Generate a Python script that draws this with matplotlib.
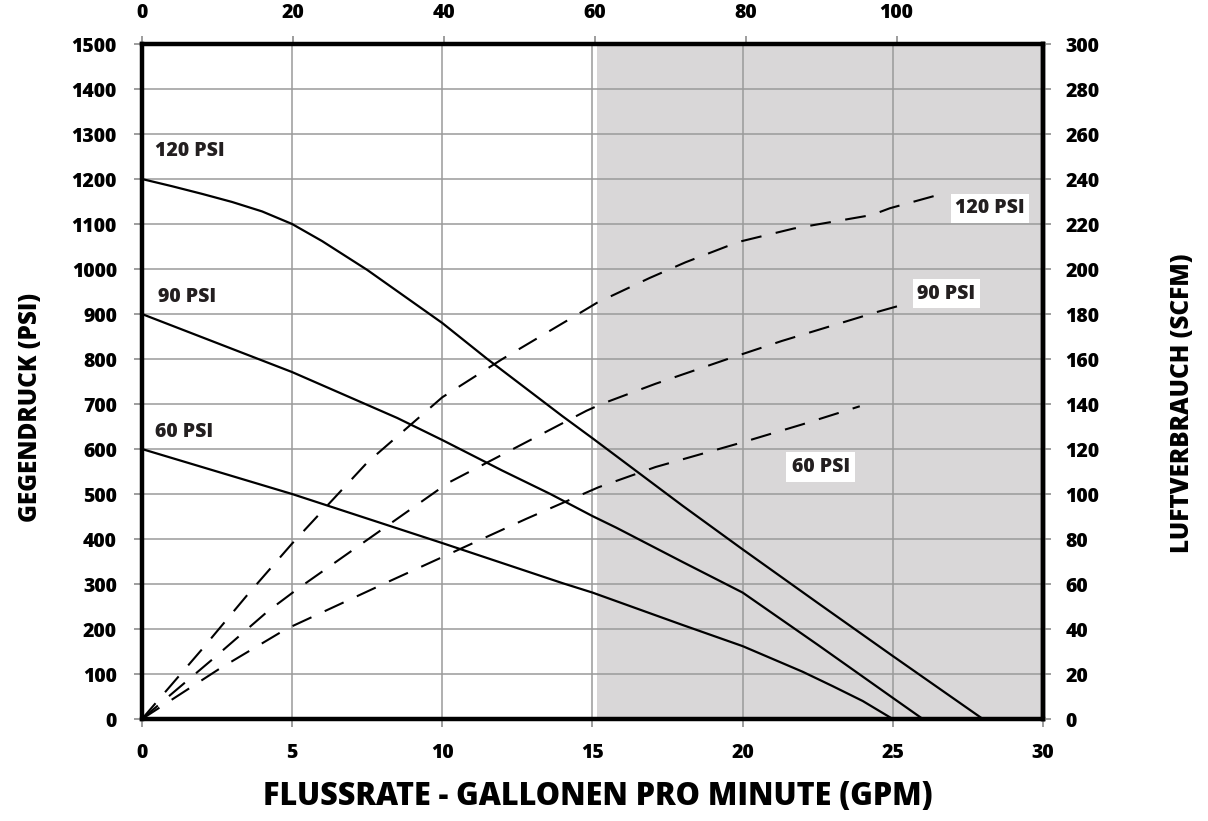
import matplotlib
matplotlib.use("Agg")
import matplotlib.pyplot as plt

plt.rcParams["font.family"] = ["Open Sans", "DejaVu Sans"]
plt.rcParams["font.weight"] = "heavy"

# Gegendruck (PSI) über Durchfluss (GPM), je Luftdruck
GPM_120 = [0, 1, 2, 3, 4, 5, 6, 7.5, 10, 11.5, 14, 15, 18, 20, 22.5, 25, 28]
PSI_120 = [1200, 1184, 1167, 1149, 1128, 1100, 1062, 998, 880, 800, 673, 624, 474, 377, 258, 140, 0]
GPM_90 = [0, 5, 8.5, 10, 12, 13.6, 15, 15.8, 18, 20, 22.5, 25, 26]
PSI_90 = [900, 771, 669, 620, 552, 500, 451, 425, 349, 281, 165, 47, 0]
GPM_60 = [0, 5, 10, 14, 15, 18, 20, 22, 23, 24, 25]
PSI_60 = [600, 500, 391, 302, 281, 209, 162, 105, 73, 40, 0]

# Luftverbrauch (SCFM) über Durchfluss (GPM)
AIR_GPM_120 = [0, 2, 3.5, 5, 7.5, 10, 12, 14.65, 15.15, 16.9, 18.1, 19.85, 21.7, 24.3, 24.9, 26.8]
AIR_SCFM_120 = [0, 31, 55, 78, 114, 143, 160, 181, 185, 196, 203, 212, 218, 224, 227, 234]
AIR_GPM_90 = [0, 2.3, 4.2, 5.2, 10.2, 14.8, 15.3, 17.1, 19.5, 21.3, 24.5, 25.3]
AIR_SCFM_90 = [0, 26, 48, 58, 105, 137, 140, 149, 160, 168, 181, 184]
AIR_GPM_60 = [0, 2.6, 4.8, 8.2, 10.5, 12.8, 15.2, 17.1, 20, 22, 23.9]
AIR_SCFM_60 = [0, 22.5, 40, 61, 75, 89, 103, 112, 123, 131, 139]

X_TICKS = list(range(0, 31, 5))
Y_TICKS = list(range(0, 1501, 100))
TOP_TICKS = list(range(0, 101, 20))
RIGHT_TICKS = list(range(0, 301, 20))
SHADE_START = 15.15
TOP_PER_GPM = 3.98

TXT = "#231f20"
GRID = "#9a9a9a"
SHADE = "#d9d7d8"
TICK_COL = "#8c8c8c"
TICK_KW = dict(direction="out", length=6, width=1.2, color=TICK_COL,
               labelsize=14, labelcolor="black")

fig = plt.figure(figsize=(12.08, 8.21), dpi=100)
ax = fig.add_axes([0.1175, 0.1242, 0.7459, 0.8222])
ax.set_xlim(0, 30)
ax.set_ylim(0, 1500)
ax.set_xticks(X_TICKS)
ax.set_yticks(Y_TICKS)
ax.set_axisbelow(True)
ax.grid(color=GRID, lw=1.1)
ax.axvspan(SHADE_START, 30, color=SHADE, lw=0, zorder=0.3)
ax.tick_params(**TICK_KW)
ax.tick_params(axis="x", pad=11)
ax.tick_params(axis="y", pad=12)
for sp in ax.spines.values():
    sp.set_linewidth(3.2)
    sp.set_color("black")

# Kennlinien Gegendruck (durchgezogen)
for g, p in [(GPM_120, PSI_120), (GPM_90, PSI_90), (GPM_60, PSI_60)]:
    ax.plot(g, p, color="black", lw=1.6, zorder=3)

ax.text(0.45, 1262, "120 PSI", fontsize=14, color=TXT, va="center")
ax.text(0.55, 938, "90 PSI", fontsize=14, color=TXT, va="center")
ax.text(0.45, 638, "60 PSI", fontsize=14, color=TXT, va="center")

# rechte Achse: Luftverbrauch
ax2 = ax.twinx()
ax2.set_ylim(0, 300)
ax2.set_yticks(RIGHT_TICKS)
ax2.tick_params(pad=10, **TICK_KW)
for name, sp in ax2.spines.items():
    sp.set_visible(name == "right")
ax2.spines["right"].set_linewidth(3.2)

for g, s in [(AIR_GPM_120, AIR_SCFM_120), (AIR_GPM_90, AIR_SCFM_90), (AIR_GPM_60, AIR_SCFM_60)]:
    ax2.plot(g, s, color="black", lw=1.5, dashes=(10, 7), zorder=3)

box = dict(boxstyle="square,pad=0.22", fc="white", ec="none")
ax2.text(28.24, 227, "120 PSI", fontsize=14, color=TXT, ha="center", va="center", bbox=box)
ax2.text(26.78, 189, "90 PSI", fontsize=14, color=TXT, ha="center", va="center", bbox=box)
ax2.text(22.6, 112, "60 PSI", fontsize=14, color=TXT, ha="center", va="center",
         bbox=dict(boxstyle="square,pad=0.28", fc="white", ec="none"))

# obere Achse
top = ax.secondary_xaxis("top", functions=(lambda g: g * TOP_PER_GPM, lambda v: v / TOP_PER_GPM))
top.set_xticks(TOP_TICKS)
top.tick_params(pad=9, **TICK_KW)
top.spines["top"].set_visible(False)

fig.text(0.495, 0.029, "FLUSSRATE - GALLONEN PRO MINUTE (GPM)", fontsize=22,
         ha="center", va="center", color="black")
fig.text(0.025, 0.504, "GEGENDRUCK (PSI)", fontsize=17.5, rotation=90,
         ha="center", va="center", color="black")
fig.text(0.979, 0.509, "LUFTVERBRAUCH (SCFM)", fontsize=17.5, rotation=90,
         ha="center", va="center", color="black")

fig.savefig("out.png", dpi=100)
